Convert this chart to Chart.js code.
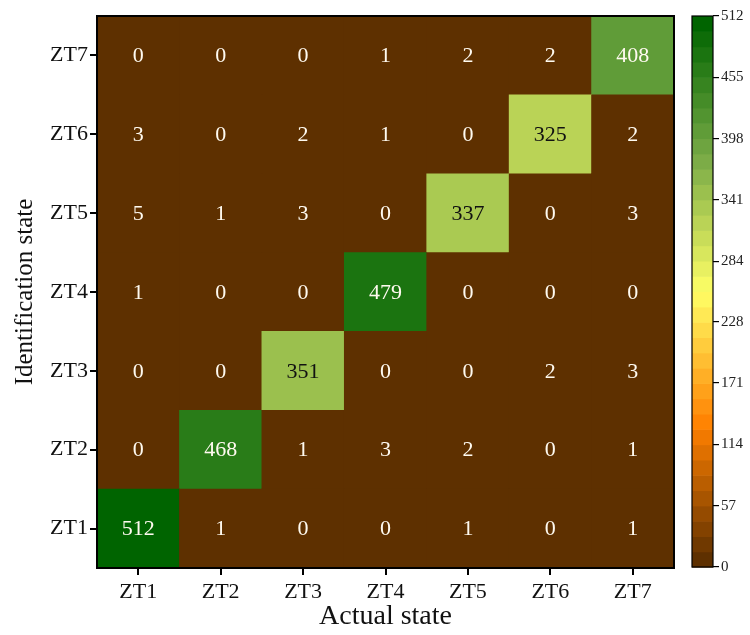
<!DOCTYPE html>
<html>
<head>
<meta charset="utf-8">
<script src="https://cdn.jsdelivr.net/npm/chart.js@4/dist/chart.umd.min.js"></script>
<style>
  html, body { margin: 0; padding: 0; background: #fff; }
  #wrap { position: relative; width: 750px; height: 635px; }
  #heat { position: absolute; left: 0; top: 0; }
  #bar { position: absolute; left: 680px; top: 0; }
</style>
</head>
<body>
<div id="wrap">
  <canvas id="heat" width="680" height="635"></canvas>
  <canvas id="bar" width="70" height="635"></canvas>
</div>
<script>
// Confusion matrix: actual state (columns) vs identification state (rows)
const categories = ['ZT1', 'ZT2', 'ZT3', 'ZT4', 'ZT5', 'ZT6', 'ZT7'];

// One array per identification state, values listed by actual state ZT1..ZT7
const rowZT1 = [512, 1, 0, 0, 1, 0, 1];
const rowZT2 = [0, 468, 1, 3, 2, 0, 1];
const rowZT3 = [0, 0, 351, 0, 0, 2, 3];
const rowZT4 = [1, 0, 0, 479, 0, 0, 0];
const rowZT5 = [5, 1, 3, 0, 337, 0, 3];
const rowZT6 = [3, 0, 2, 1, 0, 325, 2];
const rowZT7 = [0, 0, 0, 1, 2, 2, 408];
const rows = [rowZT1, rowZT2, rowZT3, rowZT4, rowZT5, rowZT6, rowZT7];

// Colour bar
const colorbarTicks = [0, 57, 114, 171, 228, 284, 341, 398, 455, 512];
const colorMax = 512;
const BANDS = 36;

const FONT = "'Liberation Serif', 'Times New Roman', serif";

// brown -> orange -> yellow -> green colour map
const cmapStops = [
  [0.00, [94, 48, 0]],
  [0.25, [255, 128, 0]],
  [0.50, [255, 255, 102]],
  [0.75, [120, 170, 70]],
  [1.00, [0, 100, 0]]
];
function cmapSmooth(t) {
  t = Math.max(0, Math.min(1, t));
  for (let k = 1; k < cmapStops.length; k++) {
    const [t1, c1] = cmapStops[k];
    const [t0, c0] = cmapStops[k - 1];
    if (t <= t1) {
      const f = (t - t0) / (t1 - t0);
      const c = c0.map((a, n) => Math.round(a + (c1[n] - a) * f));
      return `rgb(${c[0]},${c[1]},${c[2]})`;
    }
  }
  return 'rgb(0,100,0)';
}
// discrete map: each value takes the colour of its band
function bandIndex(v) {
  return Math.min(BANDS - 1, Math.floor(v / colorMax * BANDS));
}
function bandColor(b) {
  return cmapSmooth(b / (BANDS - 1));
}
function cmap(v) {
  return bandColor(bandIndex(v));
}
function textColor(v) {
  return (v > 250 && v < 385) ? '#111111' : '#fffaf0';
}

// Background, cell labels and frame of the heat map
const heatDecor = {
  id: 'heatDecor',
  beforeDatasetsDraw(chart) {
    const { ctx, chartArea: a } = chart;
    ctx.save();
    ctx.fillStyle = cmap(0);
    ctx.fillRect(a.left, a.top, a.right - a.left, a.bottom - a.top);
    ctx.restore();
  },
  afterDatasetsDraw(chart) {
    const { ctx, chartArea: a } = chart;
    const xs = chart.scales.x, ys = chart.scales.y;
    ctx.save();
    ctx.font = `22px ${FONT}`;
    ctx.textAlign = 'center';
    ctx.textBaseline = 'middle';
    rows.forEach((row, i) => {
      row.forEach((v, j) => {
        ctx.fillStyle = textColor(v);
        ctx.fillText(String(v), xs.getPixelForValue(j), ys.getPixelForValue(i) + 1);
      });
    });
    ctx.strokeStyle = '#000';
    ctx.lineWidth = 2;
    ctx.strokeRect(a.left, a.top, a.right - a.left, a.bottom - a.top);
    ctx.restore();
  }
};

new Chart(document.getElementById('heat'), {
  type: 'bar',
  data: {
    labels: categories,
    datasets: rows.map((row, i) => ({
      data: row.map(() => [i - 0.5, i + 0.5]),
      backgroundColor: row.map(v => cmap(v)),
      borderWidth: 0,
      barPercentage: 1,
      categoryPercentage: 1
    }))
  },
  options: {
    responsive: false,
    animation: false,
    layout: { padding: { left: 0, right: 6, top: 16, bottom: 0 } },
    plugins: { legend: { display: false }, tooltip: { enabled: false } },
    scales: {
      x: {
        stacked: true,
        grid: { display: true, drawOnChartArea: false, offset: false, color: '#000', lineWidth: 2, tickLength: 7 },
        border: { display: false },
        ticks: { font: { family: FONT, size: 22 }, color: '#111', padding: 4, maxRotation: 0 },
        title: { display: true, text: 'Actual state', font: { family: FONT, size: 28 }, color: '#111', padding: { top: 0, bottom: 2 } },
        afterFit(s) { s.height = 67; }
      },
      y: {
        type: 'linear',
        min: -0.5,
        max: 6.5,
        afterBuildTicks(s) { s.ticks = categories.map((_, k) => ({ value: k })); },
        grid: { display: true, drawOnChartArea: false, color: '#000', lineWidth: 2, tickLength: 7 },
        border: { display: false },
        ticks: { font: { family: FONT, size: 22 }, color: '#111', padding: 2, callback: v => categories[v] },
        title: { display: true, text: 'Identification state', font: { family: FONT, size: 25 }, color: '#111', padding: { top: 10, bottom: 0 } },
        afterFit(s) { s.width = 97; }
      }
    }
  },
  plugins: [heatDecor]
});

// Colour bar drawn as discrete bands on its own value scale
const barDecor = {
  id: 'barDecor',
  beforeDatasetsDraw(chart) {
    const { ctx, chartArea: a } = chart;
    const ys = chart.scales.y;
    ctx.save();
    for (let b = 0; b < BANDS; b++) {
      const v0 = colorMax * b / BANDS, v1 = colorMax * (b + 1) / BANDS;
      const p0 = ys.getPixelForValue(v0), p1 = ys.getPixelForValue(v1);
      ctx.fillStyle = bandColor(b);
      ctx.fillRect(a.left, p1, a.right - a.left, p0 - p1 + 0.6);
    }
    ctx.strokeStyle = '#000';
    ctx.lineWidth = 1.2;
    ctx.strokeRect(a.left, a.top, a.right - a.left, a.bottom - a.top);
    ctx.restore();
  }
};

new Chart(document.getElementById('bar'), {
  type: 'bar',
  data: { labels: [''], datasets: [{ data: [null] }] },
  options: {
    responsive: false,
    animation: false,
    layout: { padding: { left: 12, right: 0, top: 16, bottom: 68 } },
    plugins: { legend: { display: false }, tooltip: { enabled: false } },
    scales: {
      x: { display: false },
      y: {
        position: 'right',
        min: 0,
        max: colorMax,
        afterBuildTicks(s) { s.ticks = colorbarTicks.map(v => ({ value: v })); },
        grid: { display: true, drawOnChartArea: false, color: '#000', lineWidth: 1.2, tickLength: 6 },
        border: { display: false },
        ticks: { font: { family: FONT, size: 15 }, color: '#222', padding: 2 },
        afterFit(s) { s.width = 37; }
      }
    }
  },
  plugins: [barDecor]
});
</script>
</body>
</html>
